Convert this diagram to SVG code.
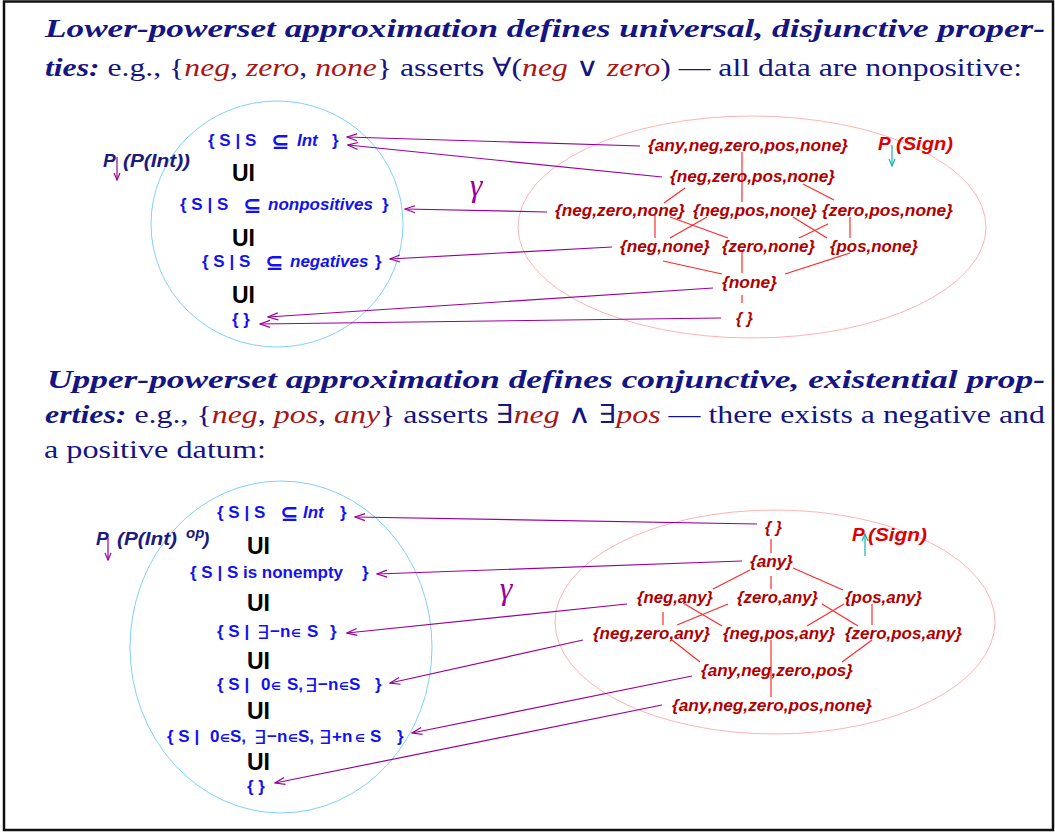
<svg xmlns="http://www.w3.org/2000/svg" width="1055" height="833" viewBox="0 0 1055 833">
<style>
.t{font-family:"Liberation Serif","DejaVu Serif",serif;font-size:26px;fill:#141482}
.bi{font-weight:bold;font-style:italic}
.r{font-style:italic;fill:#aa1515}
.lat{font-family:"Liberation Sans","DejaVu Sans",sans-serif;font-weight:bold;font-style:italic;font-size:16px;fill:#b00000}
.set{font-family:"Liberation Sans","DejaVu Sans",sans-serif;font-weight:bold;font-size:17px;fill:#1212f0}
.it{font-style:italic}
.sym{font-family:"DejaVu Sans",sans-serif;font-weight:bold;font-size:22px}
.ex{font-family:"DejaVu Sans",sans-serif;font-weight:normal;font-size:19px}
.el{font-family:"DejaVu Sans",sans-serif;font-weight:bold;font-size:11px}
.ui{font-family:"Liberation Sans",sans-serif;font-weight:bold;font-size:23px;fill:#000}
.pl{font-family:"Liberation Sans",sans-serif;font-weight:bold;font-style:italic;font-size:19px}
.pn{fill:#1a1a80}
.ps{fill:#dd0000}
.edge{stroke:#ff2a2a;stroke-width:1.2}
.g{stroke:#990099;stroke-width:1.2;fill:none;marker-end:url(#ah)}
.gam{font-family:"Liberation Serif","DejaVu Serif",serif;font-style:italic;font-size:32px;fill:#990099}
</style>
<defs>
<marker id="ah" markerWidth="12" markerHeight="10" viewBox="-11 -5 12 10" refX="0" refY="0" orient="auto" markerUnits="userSpaceOnUse">
<path d="M-10,-3.5 L0,0 L-10,3.5" fill="none" stroke="#990099" stroke-width="1.2"/>
</marker>
<marker id="sp" markerWidth="10" markerHeight="10" viewBox="-9 -5 10 10" refX="0" refY="0" orient="auto" markerUnits="userSpaceOnUse">
<path d="M-7,-3 L0,0 L-7,3" fill="none" stroke="#990099" stroke-width="1.2"/>
</marker>
<marker id="st" markerWidth="10" markerHeight="10" viewBox="-9 -5 10 10" refX="0" refY="0" orient="auto" markerUnits="userSpaceOnUse">
<path d="M-7,-3 L0,0 L-7,3" fill="none" stroke="#20b0b0" stroke-width="1.2"/>
</marker>
</defs>
<rect x="4" y="1.5" width="1049" height="828.5" fill="#fff" stroke="#111" stroke-width="2.5"/>

<g id="text-top">
<text class="t bi" x="45" y="37" textLength="1000" lengthAdjust="spacingAndGlyphs">Lower-powerset approximation defines universal, disjunctive proper-</text>
<text class="t" x="45" y="76" textLength="977" lengthAdjust="spacingAndGlyphs"><tspan class="bi">ties:</tspan> e.g., {<tspan class="r">neg</tspan>, <tspan class="r">zero</tspan>, <tspan class="r">none</tspan>} asserts ∀(<tspan class="r">neg</tspan> ∨ <tspan class="r">zero</tspan>) — all data are nonpositive:</text>
</g>
<g id="text-bottom">
<text class="t bi" x="47" y="388" textLength="998" lengthAdjust="spacingAndGlyphs">Upper-powerset approximation defines conjunctive, existential prop-</text>
<text class="t" x="45" y="423" textLength="1000" lengthAdjust="spacingAndGlyphs"><tspan class="bi">erties:</tspan> e.g., {<tspan class="r">neg</tspan>, <tspan class="r">pos</tspan>, <tspan class="r">any</tspan>} asserts ∃<tspan class="r">neg</tspan> ∧ ∃<tspan class="r">pos</tspan> — there exists a negative and</text>
<text class="t" x="44" y="458" textLength="222" lengthAdjust="spacingAndGlyphs">a positive datum:</text>
</g>

<g id="ellipses">
<ellipse cx="277" cy="224" rx="126" ry="123" fill="none" stroke="#80d0ff" stroke-width="1"/>
<ellipse cx="752" cy="227" rx="234" ry="111" fill="none" stroke="#ffb3b3" stroke-width="1"/>
<ellipse cx="281" cy="647" rx="151" ry="166" fill="none" stroke="#80d0ff" stroke-width="1"/>
<ellipse cx="775" cy="622" rx="220" ry="112" fill="none" stroke="#ffb3b3" stroke-width="1"/>
</g>

<g id="lattice-edges">
<line class="edge" x1="742" y1="152" x2="742" y2="202"/>
<line class="edge" x1="685" y1="188" x2="664" y2="203"/>
<line class="edge" x1="803" y1="184" x2="834" y2="200"/>
<line class="edge" x1="655" y1="215" x2="655" y2="238"/>
<line class="edge" x1="670" y1="217" x2="728" y2="238"/>
<line class="edge" x1="707" y1="217" x2="670" y2="238"/>
<line class="edge" x1="793" y1="217" x2="827" y2="238"/>
<line class="edge" x1="828" y1="224" x2="799" y2="238"/>
<line class="edge" x1="850" y1="217" x2="850" y2="238"/>
<line class="edge" x1="663" y1="261" x2="722" y2="274"/>
<line class="edge" x1="742" y1="250" x2="742" y2="273"/>
<line class="edge" x1="850" y1="253" x2="785" y2="274"/>
<line class="edge" x1="742" y1="295" x2="742" y2="303"/>

<line class="edge" x1="771" y1="539" x2="771" y2="553"/>
<line class="edge" x1="750" y1="570" x2="713" y2="589"/>
<line class="edge" x1="771" y1="576" x2="771" y2="589"/>
<line class="edge" x1="793" y1="568" x2="843" y2="590"/>
<line class="edge" x1="663" y1="612" x2="663" y2="625"/>
<line class="edge" x1="683" y1="603" x2="722" y2="626"/>
<line class="edge" x1="728" y1="604" x2="677" y2="625"/>
<line class="edge" x1="822" y1="604" x2="858" y2="626"/>
<line class="edge" x1="844" y1="604" x2="807" y2="626"/>
<line class="edge" x1="872" y1="604" x2="872" y2="625"/>
<line class="edge" x1="672" y1="640" x2="700" y2="662"/>
<line class="edge" x1="771" y1="640" x2="771" y2="697"/>
<line class="edge" x1="872" y1="640" x2="842" y2="662"/>
</g>

<g id="gamma-connectors">
<line class="g" x1="640" y1="146" x2="347" y2="137"/>
<line class="g" x1="662" y1="177" x2="348" y2="145"/>
<line class="g" x1="547" y1="212" x2="405" y2="209"/>
<line class="g" x1="612" y1="247" x2="390" y2="259"/>
<line class="g" x1="713" y1="288" x2="268" y2="317"/>
<line class="g" x1="721" y1="318" x2="260" y2="324"/>

<line class="g" x1="757" y1="524" x2="355" y2="517"/>
<line class="g" x1="742" y1="561" x2="377" y2="574"/>
<line class="g" x1="627" y1="604" x2="347" y2="633"/>
<line class="g" x1="583" y1="640" x2="390" y2="683"/>
<line class="g" x1="692" y1="676" x2="412" y2="733"/>
<line class="g" x1="662" y1="705" x2="275" y2="783"/>
</g>

<g id="gamma-top"><text class="gam" x="476" y="196" text-anchor="middle">γ</text></g>
<g id="gamma-bottom"><text class="gam" x="506" y="599" text-anchor="middle">γ</text></g>

<g id="label-PPInt">
<text class="pl pn" y="167"><tspan x="103">P</tspan><tspan x="123" textLength="67" lengthAdjust="spacingAndGlyphs">(P(Int))</tspan></text>
<line x1="117" y1="157" x2="117" y2="180" stroke="#990099" stroke-width="1.2" marker-end="url(#sp)"/>
</g>
<g id="label-PSign-top">
<text class="pl ps" y="150"><tspan x="878">P</tspan><tspan x="896" textLength="57" lengthAdjust="spacingAndGlyphs">(Sign)</tspan></text>
<line x1="892" y1="145" x2="892" y2="166" stroke="#20b0b0" stroke-width="1.2" marker-end="url(#st)"/>
</g>
<g id="label-PPIntop">
<text class="pl pn" y="545"><tspan x="96">P</tspan><tspan x="117" textLength="60" lengthAdjust="spacingAndGlyphs">(P(Int)</tspan><tspan x="186" y="538" font-size="15">op</tspan><tspan x="203" y="545">)</tspan></text>
<line x1="108" y1="538" x2="108" y2="560" stroke="#990099" stroke-width="1.2" marker-end="url(#sp)"/>
</g>
<g id="label-PSign-bottom">
<text class="pl ps" y="541"><tspan x="852">P</tspan><tspan x="868" textLength="59" lengthAdjust="spacingAndGlyphs">(Sign)</tspan></text>
<line x1="865" y1="556" x2="865" y2="534" stroke="#20b0b0" stroke-width="1.2" marker-end="url(#st)"/>
</g>

<g id="lower-sets">
<g id="ls-int"><text class="set"><tspan x="208" y="146">{ S | S</tspan><tspan class="sym" x="271" y="149">⊆</tspan><tspan class="it" x="297" y="146">Int</tspan><tspan x="332" y="146">}</tspan></text></g>
<g id="ls-ui1"><text class="ui" x="232" y="181">UI</text></g>
<g id="ls-nonpos"><text class="set"><tspan x="180" y="210">{ S | S</tspan><tspan class="sym" x="243" y="213">⊆</tspan><tspan class="it" x="268" y="210">nonpositives</tspan><tspan x="382" y="210">}</tspan></text></g>
<g id="ls-ui2"><text class="ui" x="232" y="246">UI</text></g>
<g id="ls-neg"><text class="set"><tspan x="202" y="267">{ S | S</tspan><tspan class="sym" x="265" y="270">⊆</tspan><tspan class="it" x="290" y="267">negatives</tspan><tspan x="375" y="267">}</tspan></text></g>
<g id="ls-ui3"><text class="ui" x="232" y="303">UI</text></g>
<g id="ls-empty"><text class="set" x="232" y="325">{ }</text></g>
</g>

<g id="upper-sets">
<g id="us-int"><text class="set"><tspan x="217" y="518">{ S | S</tspan><tspan class="sym" x="280" y="521">⊆</tspan><tspan class="it" x="303" y="518">Int</tspan><tspan x="340" y="518">}</tspan></text></g>
<g id="us-ui1"><text class="ui" x="247" y="554">UI</text></g>
<g id="us-nonempty"><text class="set" y="578"><tspan x="190">{ S | S is nonempty</tspan><tspan x="362">}</tspan></text></g>
<g id="us-ui2"><text class="ui" x="247" y="611">UI</text></g>
<g id="us-neg"><text class="set"><tspan x="217" y="637">{ S |</tspan><tspan class="ex" x="257" y="639">∃</tspan><tspan x="270" y="637">−n</tspan><tspan class="el" x="291" y="637">∈</tspan><tspan x="307" y="637">S</tspan><tspan x="330" y="637">}</tspan></text></g>
<g id="us-ui3"><text class="ui" x="247" y="669">UI</text></g>
<g id="us-zero-neg"><text class="set"><tspan x="217" y="690">{ S |</tspan><tspan x="261" y="690">0</tspan><tspan class="el" x="271" y="690">∈</tspan><tspan x="287" y="690">S,</tspan><tspan class="ex" x="305" y="692">∃</tspan><tspan x="318" y="690">−n</tspan><tspan class="el" x="339" y="690">∈</tspan><tspan x="349" y="690">S</tspan><tspan x="375" y="690">}</tspan></text></g>
<g id="us-ui4"><text class="ui" x="247" y="719">UI</text></g>
<g id="us-zero-neg-pos"><text class="set"><tspan x="167" y="742">{ S |</tspan><tspan x="210" y="742">0</tspan><tspan class="el" x="220" y="742">∈</tspan><tspan x="230" y="742">S,</tspan><tspan class="ex" x="254" y="744">∃</tspan><tspan x="267" y="742">−n</tspan><tspan class="el" x="288" y="742">∈</tspan><tspan x="298" y="742">S,</tspan><tspan class="ex" x="319" y="744">∃</tspan><tspan x="332" y="742">+n</tspan><tspan class="el" x="355" y="742">∈</tspan><tspan x="370" y="742">S</tspan><tspan x="397" y="742">}</tspan></text></g>
<g id="us-ui5"><text class="ui" x="247" y="770">UI</text></g>
<g id="us-empty"><text class="set" x="247" y="792">{ }</text></g>
</g>

<g id="sign-lower">
<g id="sl-all"><text class="lat" x="648" y="151" textLength="200" lengthAdjust="spacingAndGlyphs">{any,neg,zero,pos,none}</text></g>
<g id="sl-nzpn"><text class="lat" x="670" y="182" textLength="165" lengthAdjust="spacingAndGlyphs">{neg,zero,pos,none}</text></g>
<g id="sl-nzn"><text class="lat" x="555" y="216" textLength="130" lengthAdjust="spacingAndGlyphs">{neg,zero,none}</text></g>
<g id="sl-npn"><text class="lat" x="693" y="216" textLength="124" lengthAdjust="spacingAndGlyphs">{neg,pos,none}</text></g>
<g id="sl-zpn"><text class="lat" x="822" y="216" textLength="131" lengthAdjust="spacingAndGlyphs">{zero,pos,none}</text></g>
<g id="sl-nn"><text class="lat" x="620" y="252" textLength="90" lengthAdjust="spacingAndGlyphs">{neg,none}</text></g>
<g id="sl-zn"><text class="lat" x="722" y="252" textLength="93" lengthAdjust="spacingAndGlyphs">{zero,none}</text></g>
<g id="sl-pn"><text class="lat" x="830" y="252" textLength="88" lengthAdjust="spacingAndGlyphs">{pos,none}</text></g>
<g id="sl-none"><text class="lat" x="722" y="288" textLength="55" lengthAdjust="spacingAndGlyphs">{none}</text></g>
<g id="sl-empty"><text class="lat" x="736" y="324">{ }</text></g>
</g>

<g id="sign-upper">
<g id="su-empty"><text class="lat" x="765" y="533">{ }</text></g>
<g id="su-any"><text class="lat" x="750" y="567" textLength="43" lengthAdjust="spacingAndGlyphs">{any}</text></g>
<g id="su-na"><text class="lat" x="637" y="603" textLength="76" lengthAdjust="spacingAndGlyphs">{neg,any}</text></g>
<g id="su-za"><text class="lat" x="737" y="603" textLength="81" lengthAdjust="spacingAndGlyphs">{zero,any}</text></g>
<g id="su-pa"><text class="lat" x="845" y="603" textLength="77" lengthAdjust="spacingAndGlyphs">{pos,any}</text></g>
<g id="su-nza"><text class="lat" x="593" y="639" textLength="117" lengthAdjust="spacingAndGlyphs">{neg,zero,any}</text></g>
<g id="su-npa"><text class="lat" x="723" y="639" textLength="112" lengthAdjust="spacingAndGlyphs">{neg,pos,any}</text></g>
<g id="su-zpa"><text class="lat" x="845" y="639" textLength="117" lengthAdjust="spacingAndGlyphs">{zero,pos,any}</text></g>
<g id="su-anzp"><text class="lat" x="701" y="676" textLength="152" lengthAdjust="spacingAndGlyphs">{any,neg,zero,pos}</text></g>
<g id="su-all"><text class="lat" x="672" y="711" textLength="200" lengthAdjust="spacingAndGlyphs">{any,neg,zero,pos,none}</text></g>
</g>
</svg>
